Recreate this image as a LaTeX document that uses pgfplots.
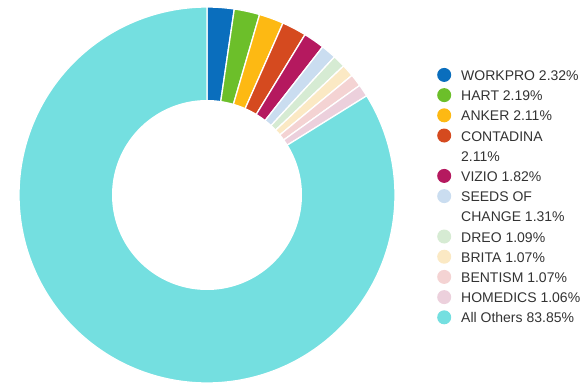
\documentclass[border=0pt]{standalone}
\usepackage{pgfplots}
\pgfplotsset{compat=1.18}
\usepackage{pgfplotstable}
\usepackage{fontspec}
\setmainfont{Liberation Sans}

\definecolor{slice0}{HTML}{0A6EBD}
\definecolor{slice1}{HTML}{6CBF2A}
\definecolor{slice2}{HTML}{FDB913}
\definecolor{slice3}{HTML}{D54A1F}
\definecolor{slice4}{HTML}{B5195F}
\definecolor{slice5}{HTML}{CADDF0}
\definecolor{slice6}{HTML}{D6EBD3}
\definecolor{slice7}{HTML}{FBE9C4}
\definecolor{slice8}{HTML}{F4D3D3}
\definecolor{slice9}{HTML}{ECD0DC}
\definecolor{slice10}{HTML}{74DFE0}
\definecolor{textgray}{HTML}{333333}

% market share by brand, in percent
\pgfplotstableread{
brand share
WORKPRO 2.32
HART 2.19
ANKER 2.11
CONTADINA 2.11
VIZIO 1.82
SEEDS_OF_CHANGE 1.31
DREO 1.09
BRITA 1.07
BENTISM 1.07
HOMEDICS 1.06
All_Others 83.85
}\sharetable

\begin{document}
\begin{tikzpicture}
\begin{axis}[
  scale only axis, width=582pt, height=384pt,
  xmin=0, xmax=582, ymin=0, ymax=384,
  hide axis, clip=false,
  legend image code/.code={\fill[#1, draw=none] (7pt,5.6pt) circle (7pt);},
  legend style={
    at={(0.7512,0.8268)}, anchor=north west,
    draw=none, fill=none, inner sep=0pt, outer sep=0pt,
    row sep=0pt, column sep=10pt,
    font=\fontsize{14}{16}\selectfont, text=textgray,
    nodes={inner sep=0pt, text height=14pt, text depth=6.2pt},
    cells={anchor=base west},
  },
]
% keep the full canvas in the picture
\path (rel axis cs:0,0) rectangle (rel axis cs:1,1);
\def\cum{0}
\pgfplotsforeachungrouped \i in {0,...,10}{%
  \pgfplotstablegetelem{\i}{share}\of\sharetable
  \let\s\pgfplotsretval
  \pgfmathsetmacro\angA{90-3.6*\cum}%
  \pgfmathsetmacro\angB{90-3.6*(\cum+\s)}%
  \pgfmathsetmacro\cum{\cum+\s}%
  \pgfmathtruncatemacro\ns{max(20,3.6*\s*1.5)}%
  \edef\cmd{\noexpand\addplot[fill=slice\i, draw=white, line width=1.3pt,
      domain=\angB:\angA, samples=\ns, forget plot]
      ({207+188*cos(x)},{189+188*sin(x)}) -- (axis cs:207,189) -- cycle;}%
  \cmd
}
% donut hole
\addplot[fill=white, draw=none, domain=0:360, samples=240, forget plot]
  ({207+95*cos(x)},{189+95*sin(x)}) -- cycle;

\addlegendimage{fill=slice0}\addlegendentry{WORKPRO 2.32\%}
\addlegendimage{fill=slice1}\addlegendentry{HART 2.19\%}
\addlegendimage{fill=slice2}\addlegendentry{ANKER 2.11\%}
\addlegendimage{fill=slice3}\addlegendentry{CONTADINA}
\addlegendimage{empty legend}\addlegendentry{2.11\%}
\addlegendimage{fill=slice4}\addlegendentry{VIZIO 1.82\%}
\addlegendimage{fill=slice5}\addlegendentry{SEEDS OF}
\addlegendimage{empty legend}\addlegendentry{CHANGE 1.31\%}
\addlegendimage{fill=slice6}\addlegendentry{DREO 1.09\%}
\addlegendimage{fill=slice7}\addlegendentry{BRITA 1.07\%}
\addlegendimage{fill=slice8}\addlegendentry{BENTISM 1.07\%}
\addlegendimage{fill=slice9}\addlegendentry{HOMEDICS 1.06\%}
\addlegendimage{fill=slice10}\addlegendentry{All Others 83.85\%}
\end{axis}
\end{tikzpicture}
\end{document}
